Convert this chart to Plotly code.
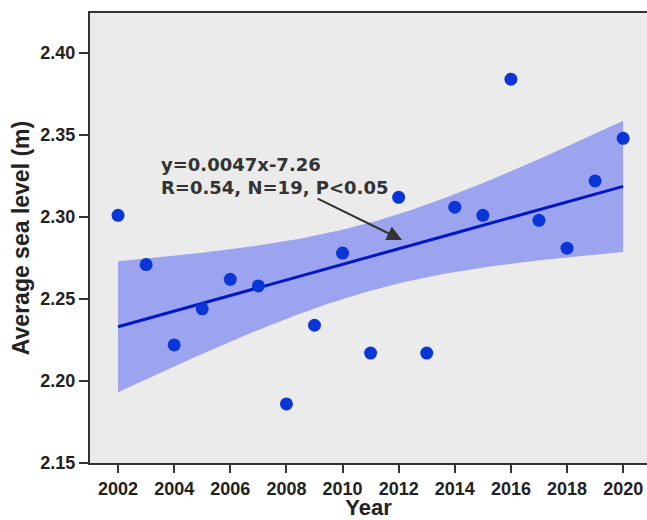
import numpy as np
import plotly.graph_objects as go

years = [2002, 2003, 2004, 2005, 2006, 2007, 2008, 2009, 2010, 2011,
         2012, 2013, 2014, 2015, 2016, 2017, 2018, 2019, 2020]
sea_level = [2.301, 2.271, 2.222, 2.244, 2.262, 2.258, 2.186, 2.234, 2.278, 2.217,
             2.312, 2.217, 2.306, 2.301, 2.384, 2.298, 2.281, 2.322, 2.348]
x_ticks = [2002, 2004, 2006, 2008, 2010, 2012, 2014, 2016, 2018, 2020]
y_ticks = [2.15, 2.20, 2.25, 2.30, 2.35, 2.40]
eq_text = "y=0.0047x-7.26<br>R=0.54, N=19, P<0.05"

# linear fit and 95% confidence band of the mean
x = np.array(years, dtype=float)
y = np.array(sea_level)
slope, intercept = np.polyfit(x, y, 1)
n = len(x)
resid = y - (slope * x + intercept)
s = np.sqrt(np.sum(resid ** 2) / (n - 2))
sxx = np.sum((x - x.mean()) ** 2)
t_val = 2.1098  # t(0.975, df=17)
xg = np.linspace(x.min(), x.max(), 200)
yg = slope * xg + intercept
half = t_val * s * np.sqrt(1 / n + (xg - x.mean()) ** 2 / sxx)

fig = go.Figure()
fig.add_trace(go.Scatter(
    x=np.concatenate([xg, xg[::-1]]),
    y=np.concatenate([yg + half, (yg - half)[::-1]]),
    fill="toself", fillcolor="rgba(100,112,242,0.58)",
    line=dict(width=0), mode="lines", hoverinfo="skip", showlegend=False))
fig.add_trace(go.Scatter(x=xg, y=yg, mode="lines",
                         line=dict(color="#0018c8", width=3), showlegend=False))
fig.add_trace(go.Scatter(x=years, y=sea_level, mode="markers",
                         marker=dict(color="#0a36d8", size=13), showlegend=False))

axis_font = dict(family="Liberation Sans, Arial, sans-serif", size=18, color="#222", weight="bold")
xtitle_font = dict(family="Liberation Sans, Arial, sans-serif", size=22, color="#222", weight="bold")
ytitle_font = dict(family="Liberation Sans, Arial, sans-serif", size=23, color="#222", weight="bold")

fig.update_layout(
    width=647, height=520,
    margin=dict(l=90, r=0, t=13, b=57),
    paper_bgcolor="white", plot_bgcolor="#ebebeb",
    showlegend=False,
    xaxis=dict(range=[2001.0, 2020.85], tickvals=x_ticks, ticks="outside", ticklen=8,
               tickwidth=1.5, tickcolor="#333", showline=True, linecolor="#333", linewidth=2,
               mirror=True, showgrid=False, zeroline=False, tickfont=axis_font,
               title=dict(text="Year", font=xtitle_font, standoff=5)),
    yaxis=dict(range=[2.15, 2.4244], tickvals=y_ticks, tickformat=".2f", ticks="outside",
               ticklen=9, tickwidth=1.5, tickcolor="#333", showline=True, linecolor="#333",
               linewidth=2, mirror=False, showgrid=False, zeroline=False, tickfont=axis_font,
               title=dict(text="Average sea level (m)", font=ytitle_font, standoff=4)),
)

fig.add_annotation(x=2003.45, y=2.325, xref="x", yref="y", text=eq_text, showarrow=False,
                   xanchor="left", yanchor="middle", align="left",
                   font=dict(family="DejaVu Sans", size=18, color="#333", weight="bold"))
fig.add_annotation(x=2012.12, y=2.286, ax=2009.06, ay=2.3116, xref="x", yref="y",
                   axref="x", ayref="y", text="", showarrow=True, arrowhead=2,
                   arrowsize=1.5, arrowwidth=2, arrowcolor="#333")

fig.write_html("out.html")
